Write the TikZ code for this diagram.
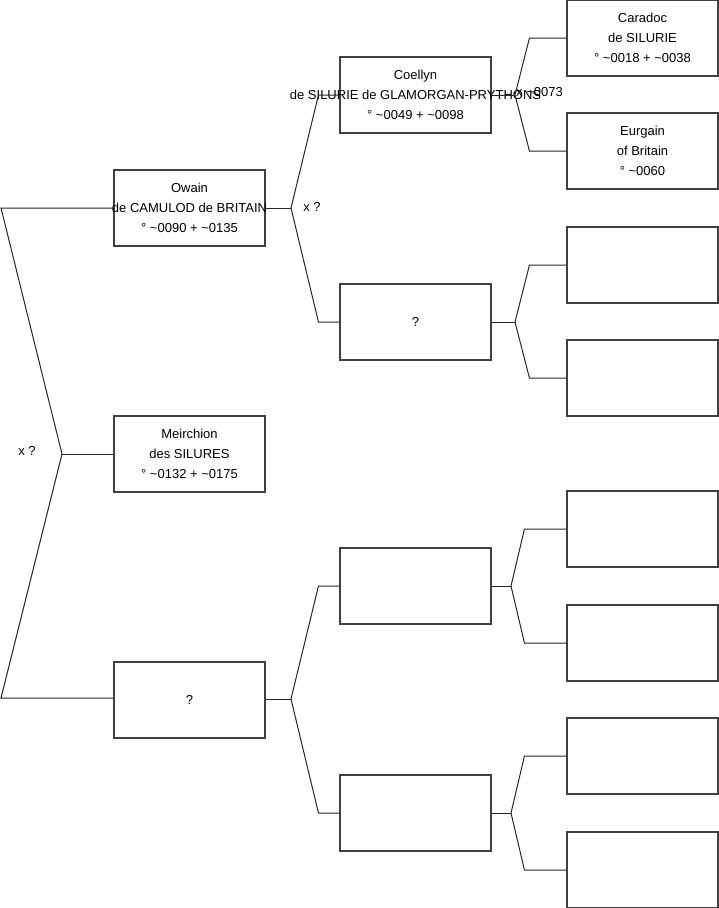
\documentclass[tikz,border=0pt]{standalone}
\usepackage{fontspec}
\setmainfont{Liberation Sans}
\begin{document}
\begin{tikzpicture}[x=1pt,y=-1pt,
  person/.style={draw=black!75,line width=1.1pt,minimum width=151pt,minimum height=76pt,inner sep=0pt},
  ptext/.style={label={[lbl,align=center]center:#1}},
  link/.style={draw=black!85,line width=1pt},
  lbl/.style={font=\fontsize{13pt}{20pt}\selectfont,inner sep=0pt}]
\useasboundingbox (0,0) rectangle (719,908);
% level 1
\node[person,ptext={Owain\\de CAMULOD de BRITAIN\\° \textasciitilde0090 + \textasciitilde0135}] (A) at (189.5,208) {};
\node[person,ptext={Meirchion\\des SILURES\\° \textasciitilde0132 + \textasciitilde0175}] (B) at (189.5,454) {};
\node[person,ptext={?}] (C) at (189.5,700) {};
% level 2
\node[person,ptext={Coellyn\\de SILURIE de GLAMORGAN-PRYTHONS\\° \textasciitilde0049 + \textasciitilde0098}] (D) at (415.5,95) {};
\node[person,ptext={?}] (E) at (415.5,322) {};
\node[person] (F) at (415.5,586) {};
\node[person] (G) at (415.5,813) {};
% level 3
\node[person,ptext={Caradoc\\de SILURIE\\° \textasciitilde0018 + \textasciitilde0038}] (H) at (642.5,38) {};
\node[person,ptext={Eurgain\\of Britain\\° \textasciitilde0060}] (I) at (642.5,151) {};
\node[person] (J) at (642.5,265) {};
\node[person] (K) at (642.5,378) {};
\node[person] (L) at (642.5,529) {};
\node[person] (M) at (642.5,643) {};
\node[person] (N) at (642.5,756) {};
\node[person] (O) at (642.5,870) {};
% fork coordinates
\coordinate (v1) at (62,454);
\coordinate (a1) at (1,208);
\coordinate (c1) at (1,698);
\coordinate (vA) at (291,208);
\coordinate (vC) at (291,699);
\coordinate (vD) at (515,95);
\coordinate (vE) at (515,322);
\coordinate (vF) at (511,586);
\coordinate (vG) at (511,813);
% connectors
\draw[link] (A.west |- a1) -- (a1) -- (v1) -- (c1) -- (C.west |- c1);
\draw[link] (v1) -- (B.west);
\draw[link] (A.east) -- (vA);
\draw[link] (D.west) -- ++(-21,0) -- (vA) -- ([xshift=-21pt]E.west) -- (E.west);
\draw[link] (C.east |- vC) -- (vC);
\draw[link] (F.west) -- ++(-21,0) -- (vC) -- ([xshift=-21pt]G.west) -- (G.west);
\draw[link] (D.east) -- (vD);
\draw[link] (H.west) -- ++(-37,0) -- (vD) -- ([xshift=-37pt]I.west) -- (I.west);
\draw[link] (E.east) -- (vE);
\draw[link] (J.west) -- ++(-37,0) -- (vE) -- ([xshift=-37pt]K.west) -- (K.west);
\draw[link] (F.east) -- (vF);
\draw[link] (L.west) -- ++(-42,0) -- (vF) -- ([xshift=-42pt]M.west) -- (M.west);
\draw[link] (G.east) -- (vG);
\draw[link] (N.west) -- ++(-42,0) -- (vG) -- ([xshift=-42pt]O.west) -- (O.west);
% labels
\node[lbl] (x1) at (27,451) {x ?};
\node[lbl] (x2) at (312,207) {x ?};
\node[lbl,anchor=east] (x3) at (563,92) {x \textasciitilde0073};
\end{tikzpicture}
\end{document}
